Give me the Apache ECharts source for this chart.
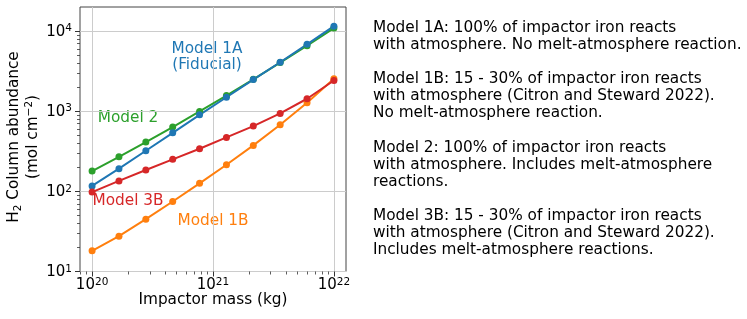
<!DOCTYPE html>
<html><head><meta charset="utf-8">
<script src="https://cdn.jsdelivr.net/npm/echarts@6/dist/echarts.min.js"></script>
<style>html,body{margin:0;padding:0;background:#fff}#c{width:747px;height:319px}</style>
</head><body><div id="c"></div>
<script>
const mass = [1e20, 1.668e20, 2.783e20, 4.642e20, 7.743e20, 1.292e21, 2.154e21, 3.594e21, 5.995e21, 1e22];
const model1A = [117, 192, 321, 538, 903, 1494, 2485, 4085, 6840, 11530];
const model1B = [18.1, 27.6, 45, 74.7, 126, 215, 375, 680, 1279, 2541];
const model2 = [179, 270, 412, 634, 995, 1567, 2505, 4045, 6590, 10900];
const model3B = [98, 135, 185, 251, 340, 471, 653, 940, 1432, 2421];
const xMajor = [1e20, 1e21, 1e22];
const yMajor = [10, 100, 1000, 10000];
const xMinor = [8e19, 9e19, 2e20,3e20,4e20,5e20,6e20,7e20,8e20,9e20, 2e21,3e21,4e21,5e21,6e21,7e21,8e21,9e21];
const yMinor = [20,30,40,50,60,70,80,90,200,300,400,500,600,700,800,900,2000,3000,4000,5000,6000,7000,8000,9000];
const descText = [
  'Model 1A: 100% of impactor iron reacts',
  'with atmosphere. No melt-atmosphere reaction.',
  '',
  'Model 1B: 15 - 30% of impactor iron reacts',
  'with atmosphere (Citron and Steward 2022).',
  'No melt-atmosphere reaction.',
  '',
  'Model 2: 100% of impactor iron reacts',
  'with atmosphere. Includes melt-atmosphere',
  'reactions.',
  '',
  'Model 3B: 15 - 30% of impactor iron reacts',
  'with atmosphere (Citron and Steward 2022).',
  'Includes melt-atmosphere reactions.'
];
const FONT = 'DejaVu Sans';
const FS = 15.3;
const C = {blue:'#1f77b4', orange:'#ff7f0e', green:'#2ca02c', red:'#d62728'};
const pairs = arr => mass.map((m,i)=>[m, arr[i]]);
const powLabel = v => '{b|10}{s|' + Math.round(Math.log10(v)) + '}';
const richLab = {
  b:{fontSize:15, fontFamily:FONT, color:'#000', lineHeight:16, verticalAlign:'bottom'},
  s:{fontSize:10.5, fontFamily:FONT, color:'#000', lineHeight:16, verticalAlign:'top'}
};
const xMin = Math.pow(10,19.9), xMax = Math.pow(10,22.1);
const axisCommon = {logBase:10, axisLine:{show:false}};
function mkSeries(name, arr, color){
  return {name, type:'line', data:pairs(arr), symbol:'circle', symbolSize:7,
    itemStyle:{color}, lineStyle:{color, width:2}, xAxisIndex:0, yAxisIndex:0, z:2};
}
const chart = echarts.init(document.getElementById('c'));
chart.setOption({
  animation:false,
  grid:{left:80, top:7, right:401, bottom:47.5, show:true, borderColor:'#444', borderWidth:1, backgroundColor:'transparent', containLabel:false},
  xAxis:[
    Object.assign({type:'log', min:xMin, max:xMax, position:'bottom',
      axisTick:{show:true, inside:false, length:5, customValues:xMajor, lineStyle:{color:'#333', width:1}},
      axisLabel:{customValues:xMajor, formatter:powLabel, rich:richLab, margin:5},
      splitLine:{show:true, lineStyle:{color:'#cccccc', width:1}}}, axisCommon),
    Object.assign({type:'log', min:xMin, max:xMax, position:'bottom',
      axisTick:{show:true, inside:false, length:3, customValues:xMinor, lineStyle:{color:'#333', width:0.8}},
      axisLabel:{show:false}, splitLine:{show:false}}, axisCommon)
  ],
  yAxis:[
    Object.assign({type:'log', min:10, max:20000, position:'left',
      axisTick:{show:true, inside:false, length:5, customValues:yMajor, lineStyle:{color:'#333', width:1}},
      axisLabel:{customValues:yMajor, formatter:powLabel, rich:richLab, margin:8},
      splitLine:{show:true, lineStyle:{color:'#cccccc', width:1}}}, axisCommon),
    Object.assign({type:'log', min:10, max:20000, position:'left',
      axisTick:{show:true, inside:false, length:3, customValues:yMinor, lineStyle:{color:'#333', width:0.8}},
      axisLabel:{show:false}, splitLine:{show:false}}, axisCommon)
  ],
  series:[
    mkSeries('Model 2', model2, C.green),
    mkSeries('Model 1A', model1A, C.blue),
    mkSeries('Model 1B', model1B, C.orange),
    mkSeries('Model 3B', model3B, C.red)
  ],
  graphic:[
    {type:'text', x:23.5, y:137, rotation:Math.PI/2, style:{
      text:'{n|H}{sub|2}{n| Column abundance}\n{n|(mol cm}{sup|−2}{n|)}',
      textAlign:'center', textVerticalAlign:'middle',
      rich:{
        n:{fontSize:FS, fontFamily:FONT, fill:'#000', lineHeight:19},
        sub:{fontSize:10.5, fontFamily:FONT, fill:'#000', lineHeight:19, verticalAlign:'bottom'},
        sup:{fontSize:10.5, fontFamily:FONT, fill:'#000', lineHeight:19, verticalAlign:'top'}
      }}},
    {type:'text', x:213, y:300, style:{text:'Impactor mass (kg)', fontSize:FS, fontFamily:FONT, fill:'#000', textAlign:'center', textVerticalAlign:'middle'}},
    {type:'text', x:207, y:57, style:{text:'Model 1A\n(Fiducial)', fontSize:FS, fontFamily:FONT, fill:C.blue, textAlign:'center', textVerticalAlign:'middle', lineHeight:16.5}},
    {type:'text', x:128, y:118, style:{text:'Model 2', fontSize:FS, fontFamily:FONT, fill:C.green, textAlign:'center', textVerticalAlign:'middle'}},
    {type:'text', x:128, y:201, style:{text:'Model 3B', fontSize:FS, fontFamily:FONT, fill:C.red, textAlign:'center', textVerticalAlign:'middle'}},
    {type:'text', x:213, y:221, style:{text:'Model 1B', fontSize:FS, fontFamily:FONT, fill:C.orange, textAlign:'center', textVerticalAlign:'middle'}},
    {type:'text', x:373, y:139, style:{text:descText.join('\n'), fontSize:FS, fontFamily:FONT, fill:'#000', textAlign:'left', textVerticalAlign:'middle', lineHeight:17.1}}
  ]
});
</script></body></html>
